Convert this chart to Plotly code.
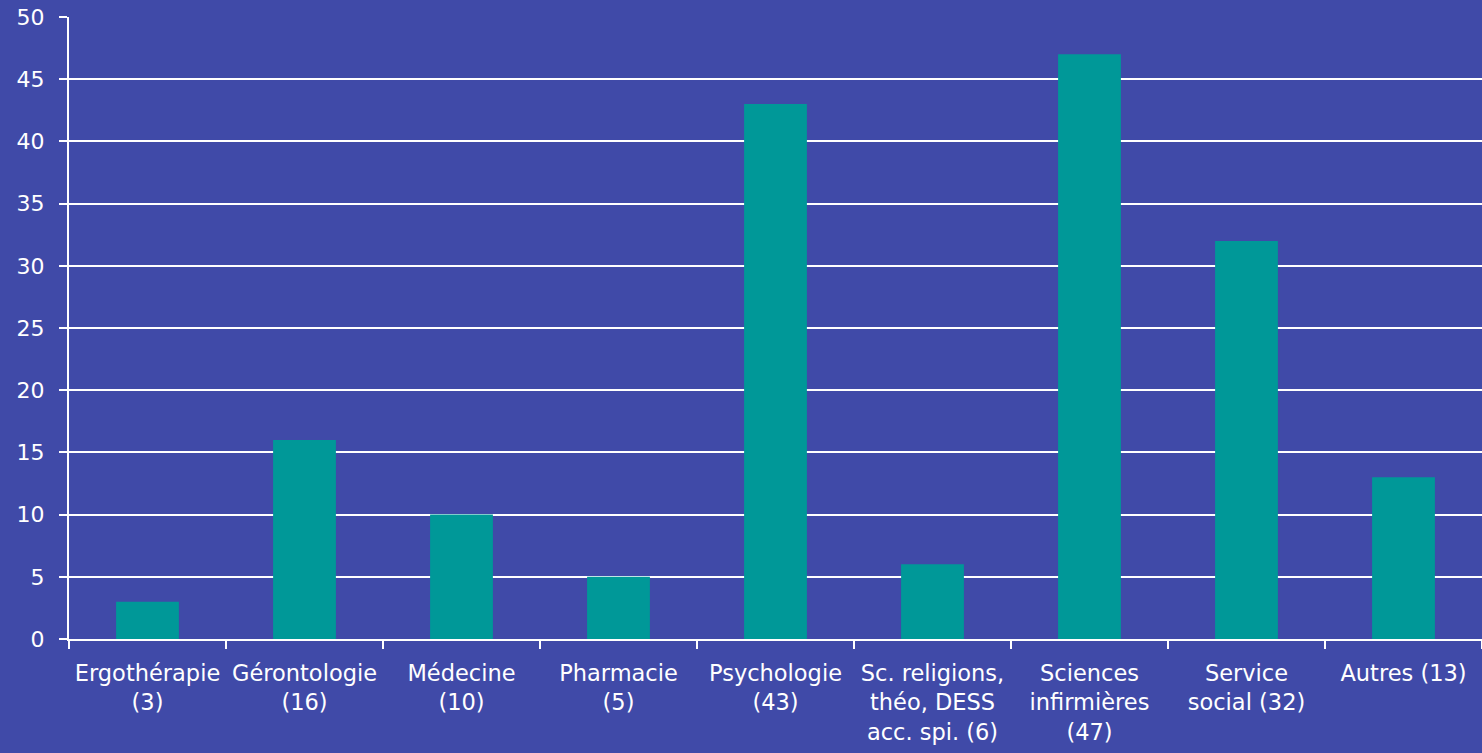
import plotly.graph_objects as go

categories = [
    "Ergothérapie<br>(3)",
    "Gérontologie<br>(16)",
    "Médecine<br>(10)",
    "Pharmacie<br>(5)",
    "Psychologie<br>(43)",
    "Sc. religions,<br>théo, DESS<br>acc. spi. (6)",
    "Sciences<br>infirmières<br>(47)",
    "Service<br>social (32)",
    "Autres (13)",
]
values = [3, 16, 10, 5, 43, 6, 47, 32, 13]
y_ticks = [0, 5, 10, 15, 20, 25, 30, 35, 40, 45, 50]

BG = "rgb(64,74,168)"
BAR = "rgb(0,152,152)"
FONT = "DejaVu Sans"

fig = go.Figure(
    go.Bar(x=categories, y=values, marker=dict(color=BAR, line=dict(width=0)))
)

fig.update_layout(
    width=1482,
    height=753,
    margin=dict(l=69, r=0, t=17, b=114),
    paper_bgcolor=BG,
    plot_bgcolor=BG,
    bargap=0.6,
    showlegend=False,
    font=dict(family=FONT, size=22, color="white"),
)

fig.update_xaxes(
    type="category",
    tickson="boundaries",
    ticks="outside",
    ticklen=8,
    tickwidth=2,
    tickcolor="white",
    showline=True,
    linecolor="white",
    linewidth=2,
    showgrid=False,
    tickangle=0,
    automargin=False,
    ticklabelstandoff=13,
    tickfont=dict(family=FONT, size=22.5, color="white"),
)

fig.update_yaxes(
    range=[0, 50],
    tickvals=y_ticks,
    ticks="outside",
    ticklen=8,
    tickwidth=2,
    tickcolor="white",
    showline=True,
    linecolor="white",
    linewidth=2,
    showgrid=True,
    gridcolor="white",
    gridwidth=2,
    zeroline=False,
    automargin=False,
    ticklabelstandoff=10,
    tickfont=dict(family=FONT, size=22, color="white"),
)

fig.write_html(
    "out.html",
    config={"displayModeBar": False},
    post_script="document.body.style.margin='0px';document.body.style.background='rgb(64,74,168)';",
)
